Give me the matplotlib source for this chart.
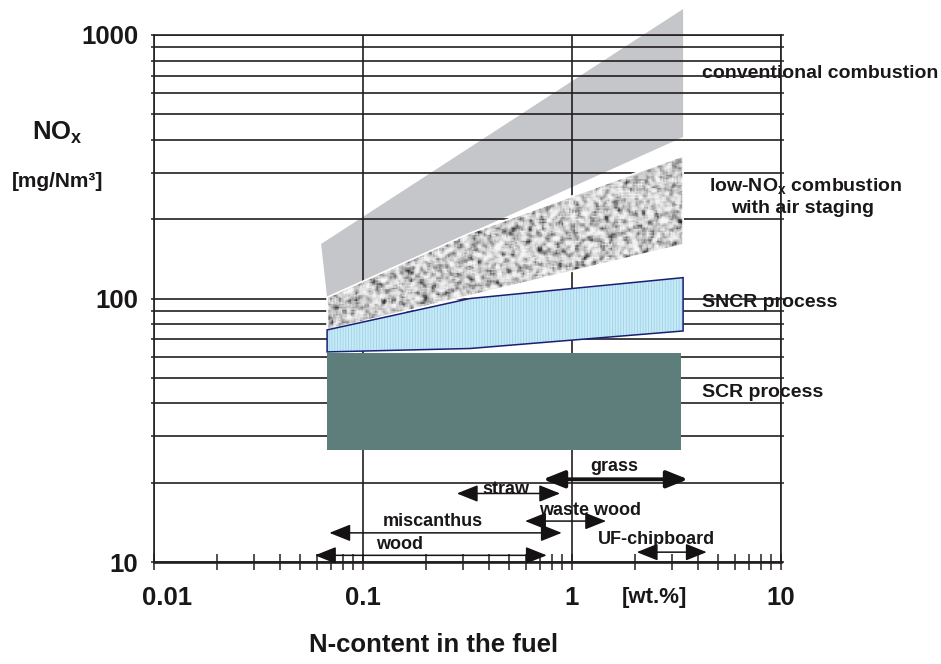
import numpy as np
import matplotlib
matplotlib.use("Agg")
import matplotlib.pyplot as plt
from matplotlib.patches import Polygon
from matplotlib.ticker import LogLocator, NullFormatter, FixedLocator
from matplotlib.colors import LinearSegmentedColormap

plt.rcParams['font.family'] = ['Liberation Sans', 'DejaVu Sans']
plt.rcParams['font.weight'] = 'bold'
plt.rcParams['mathtext.fontset'] = 'custom'
plt.rcParams['mathtext.rm'] = 'Liberation Sans:bold'
plt.rcParams['mathtext.bf'] = 'Liberation Sans:bold'
plt.rcParams['mathtext.it'] = 'Liberation Sans:bold'
plt.rcParams['hatch.linewidth'] = 0.6

# ---------------- data ----------------
# conventional combustion band (N-content [wt.%], NOx [mg/Nm3])
conv_x = [0.063, 3.4, 3.4, 0.0673]
conv_y = [161, 1255, 410, 101]
# low-NOx combustion with air staging
lownox_x = [0.0673, 0.325, 3.4, 3.4, 0.0673]
lownox_y = [101, 177, 348, 160, 76]
# SNCR process
sncr_x = [0.0673, 0.325, 3.4, 3.4, 0.325, 0.0673]
sncr_y = [76, 100, 120, 75.3, 64.6, 62.7]
# SCR process
scr_x = [0.0673, 3.32, 3.32, 0.0673]
scr_y = [62, 62, 26.6, 26.6]

# fuel N-content ranges
fuels = ['grass', 'straw', 'waste wood', 'miscanthus', 'wood', 'UF-chipboard']
n_low = [0.726, 0.281, 0.596, 0.069, 0.0589, 2.04]
n_high = [3.59, 0.877, 1.455, 0.893, 0.757, 4.41]

x_ticks = [0.01, 0.1, 1, 10]
x_ticklabels = ['0.01', '0.1', '1', '10']
y_ticks = [10, 100, 1000]
y_ticklabels = ['10', '100', '1000']

# ---------------- layout ----------------
fig = plt.figure(figsize=(9.41, 6.64), dpi=100)
ax = fig.add_axes([0.1637, 0.1536, 0.6663, 0.7937])
ax.set_xscale('log')
ax.set_yscale('log')

gridc = '#231f20'
txtc = '#1a1718'

# conventional (below grid)
p_conv = Polygon(np.column_stack([conv_x, conv_y]), closed=True,
                 facecolor='#c5c6c9', edgecolor='none', zorder=0.3, clip_on=False)
ax.add_patch(p_conv)

# low-NOx speckled band (above grid)
p_low = Polygon(np.column_stack([lownox_x, lownox_y]), closed=True,
                facecolor='#b8b8b8', edgecolor='none', zorder=1.0)
ax.add_patch(p_low)
rng = np.random.default_rng(7)
tex = rng.standard_normal((360, 420))
sm = np.zeros_like(tex)
for dy in (-1, 0, 1):
    for dx in (-1, 0, 1):
        sm += np.roll(np.roll(tex, dy, 0), dx, 1)
tex = sm / 3.0
cm = LinearSegmentedColormap.from_list('spk', ['#2e2e2e', '#808080', '#bebebe', '#e4e4e4', '#f7f7f7'])
im = ax.imshow(tex, cmap=cm, extent=(0, 1, 0, 1), transform=ax.transAxes,
               aspect='auto', interpolation='antialiased', zorder=1.05, vmin=-2.9, vmax=2.0)
im.set_clip_path(p_low)
p_low_edge = Polygon(np.column_stack([lownox_x, lownox_y]), closed=True,
                     facecolor='none', edgecolor='white', lw=1.2, zorder=1.1)
ax.add_patch(p_low_edge)

# SNCR
p_sncr = Polygon(np.column_stack([sncr_x, sncr_y]), closed=True,
                 facecolor='#c8eaf6', edgecolor='#9dd3ea', lw=0, hatch='||||||', zorder=1.2)
ax.add_patch(p_sncr)
p_sncr_e = Polygon(np.column_stack([sncr_x, sncr_y]), closed=True,
                   facecolor='none', edgecolor='#1b1f74', lw=1.1, zorder=1.3)
ax.add_patch(p_sncr_e)

# SCR
p_scr = Polygon(np.column_stack([scr_x, scr_y]), closed=True,
                facecolor='#5e7e7c', edgecolor='none', zorder=1.2)
ax.add_patch(p_scr)

ax.set_xlim(0.01, 10)
ax.set_ylim(10, 1000)
ax.set_autoscale_on(False)

# grid & ticks
ax.set_axisbelow(True)
ax.xaxis.set_major_locator(FixedLocator(x_ticks))
ax.xaxis.set_minor_locator(LogLocator(base=10, subs=np.arange(2, 10)))
ax.yaxis.set_major_locator(FixedLocator(y_ticks))
ax.yaxis.set_minor_locator(LogLocator(base=10, subs=np.arange(2, 10)))
ax.xaxis.set_minor_formatter(NullFormatter())
ax.yaxis.set_minor_formatter(NullFormatter())
ax.set_xticklabels(['', x_ticklabels[1], x_ticklabels[2], x_ticklabels[3]])
ax.set_yticklabels(y_ticklabels)
ax.xaxis.grid(True, which='major', color=gridc, lw=1.2)
ax.yaxis.grid(True, which='both', color=gridc, lw=1.2)
ax.tick_params(axis='x', which='both', direction='inout', length=11, width=1.1,
               color=gridc, top=False, pad=12, labelsize=18.5, labelcolor=txtc)
ax.tick_params(axis='y', which='both', direction='out', length=2.5, width=1.1,
               color=gridc, left=True, right=True, pad=9, labelsize=18.5, labelcolor=txtc)
for lab in ax.get_xticklabels() + ax.get_yticklabels():
    lab.set_fontweight('bold')
for s in ['left', 'right', 'top']:
    ax.spines[s].set_color(gridc)
    ax.spines[s].set_linewidth(1.2)
ax.spines['bottom'].set_color(gridc)
ax.spines['bottom'].set_linewidth(1.9)

# first tick label offset as in the original
ax.text(0.01153, -0.068, x_ticklabels[0], transform=ax.get_xaxis_transform(),
        ha='center', va='center', fontsize=18.5, fontweight='bold', color=txtc, clip_on=False)
ax.text(2.47, -0.068, '[wt.%]', transform=ax.get_xaxis_transform(),
        ha='center', va='center', fontsize=16, fontweight='bold', color=txtc, clip_on=False)

# fuel arrows
arrow_y = [20.6, 18.2, 14.3, 12.9, 10.6, 10.9]
label_x = [1.59, 0.481, 1.22, 0.216, 0.150, 2.54]
label_y = [23.0, 18.9, 15.7, 14.2, 11.7, 12.2]
shaft_w = [2.8, 1.1, 1.1, 1.1, 1.1, 1.1]
for name, lo, hi, yy, lx, ly, lw in zip(fuels, n_low, n_high, arrow_y, label_x, label_y, shaft_w):
    ax.annotate('', xy=(hi, yy), xytext=(lo, yy),
                arrowprops=dict(arrowstyle='<|-|>,head_length=1.0,head_width=0.4',
                                mutation_scale=13, color='#141213', lw=lw,
                                shrinkA=0, shrinkB=0), zorder=4, annotation_clip=False)
    ax.text(lx, ly, name, ha='center', va='center', fontsize=13, fontweight='bold',
            color=txtc, zorder=4)

# band labels (under the grid lines, as in the original)
tf = fig.transFigure
kw = dict(transform=tf, fontsize=14, fontweight='bold', color=txtc,
          zorder=0.4, clip_on=False)
ax.text(0.746, 0.8886, 'conventional combustion', ha='left', va='center', **kw)
ax.text(0.8565, 0.7199, r'low-NO$_\mathrm{x}$ combustion', ha='center', va='center', **kw)
ax.text(0.8533, 0.6867, 'with air staging', ha='center', va='center', **kw)
ax.text(0.746, 0.5441, 'SNCR process', ha='left', va='center', **kw)
ax.text(0.746, 0.4086, 'SCR process', ha='left', va='center', **kw)

# axis titles
fig.text(0.0337, 0.7997, r'NO$_\mathrm{x}$', ha='left', va='center', fontsize=18.5,
         fontweight='bold', color=txtc)
fig.text(0.0128, 0.726, '[mg/Nm³]', ha='left', va='center', fontsize=15,
         fontweight='bold', color=txtc)
fig.text(0.4605, 0.0286, 'N-content in the fuel', ha='center', va='center',
         fontsize=18.5, fontweight='bold', color=txtc)

fig.savefig('out.png', dpi=100)
